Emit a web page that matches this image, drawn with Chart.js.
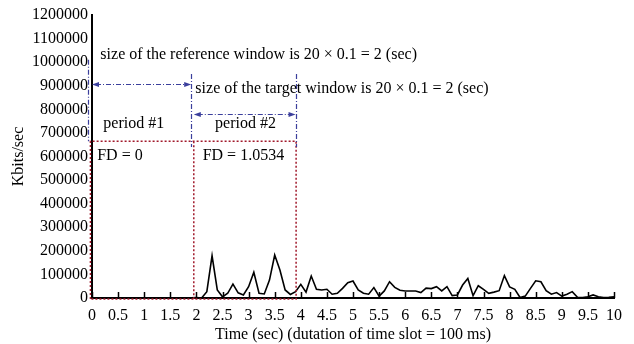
<!DOCTYPE html>
<html><head><meta charset="utf-8">
<script src="https://cdn.jsdelivr.net/npm/chart.js@4/dist/chart.umd.min.js"></script>
<style>html,body{margin:0;padding:0;background:#fff;overflow:hidden}</style>
</head><body>
<canvas id="c" width="634" height="344"></canvas>
<script>
const timeSec = [
  0.0,0.1,0.2,0.3,0.4,0.5,0.6,0.7,0.8,0.9,
  1.0,1.1,1.2,1.3,1.4,1.5,1.6,1.7,1.8,1.9,
  2.0,2.1,2.2,2.3,2.4,2.5,2.6,2.7,2.8,2.9,
  3.0,3.1,3.2,3.3,3.4,3.5,3.6,3.7,3.8,3.9,
  4.0,4.1,4.2,4.3,4.4,4.5,4.6,4.7,4.8,4.9,
  5.0,5.1,5.2,5.3,5.4,5.5,5.6,5.7,5.8,5.9,
  6.0,6.1,6.2,6.3,6.4,6.5,6.6,6.7,6.8,6.9,
  7.0,7.1,7.2,7.3,7.4,7.5,7.6,7.7,7.8,7.9,
  8.0,8.1,8.2,8.3,8.4,8.5,8.6,8.7,8.8,8.9,
  9.0,9.1,9.2,9.3,9.4,9.5,9.6,9.7,9.8,9.9,
  10.0
];
const kbitsPerSec = [
  0,0,0,0,0,0,0,0,0,0,
  0,0,0,0,0,0,0,0,0,1000,
  2000,0,27000,179000,34000,5000,20000,59000,22000,13000,
  48000,109000,20000,17000,76000,182000,119000,34000,15000,27000,
  58000,25000,93000,37000,34000,37000,16000,20000,41000,65000,
  72000,34000,20000,16000,44000,8000,30000,69000,45000,33000,
  30000,30000,30000,23000,42000,40000,48000,30000,48000,10000,
  13000,55000,83000,10000,52000,37000,20000,25000,31000,95000,
  47000,37000,2000,8000,41000,73000,69000,31000,16000,23000,
  8000,16000,27000,3000,2000,5000,13000,5000,2000,3000,
  5000
];
const xTitle = 'Time (sec) (dutation of time slot = 100 ms)';
const yTitle = 'Kbits/sec';
const refWindowText = 'size of the reference window is 20 \u00d7 0.1 = 2 (sec)';
const targetWindowText = 'size of the target window is 20 \u00d7 0.1 = 2 (sec)';
const periodLabels = ['period #1', 'period #2'];
const fdLabels = ['FD = 0', 'FD = 1.0534'];

const SERIF = '"Liberation Serif", "Times New Roman", serif';
const RED = '#a11a2c';
const BLUE = '#3b3f9c';

const annot = {
  id: 'annot',
  afterDatasetsDraw(chart) {
    const {ctx, scales: {x, y}} = chart;
    const X = v => x.getPixelForValue(v), Y = v => y.getPixelForValue(v);
    ctx.save();
    // inward x tick marks
    ctx.strokeStyle = '#000'; ctx.lineWidth = 1.5;
    x.ticks.forEach(tk => {
      const px = Math.round(X(tk.value)) + 0.5;
      ctx.beginPath(); ctx.moveTo(px, Y(0)); ctx.lineTo(px, Y(0) - 6); ctx.stroke();
    });
    // red dotted period boxes
    ctx.strokeStyle = RED; ctx.lineWidth = 1.5; ctx.setLineDash([2, 2]);
    const top = Y(665000), bot = Y(0) + 1;
    const xl = X(-0.03), xm = X(1.95), xr = X(3.91);
    ctx.beginPath();
    ctx.moveTo(xl, bot); ctx.lineTo(xl, top); ctx.lineTo(xr, top); ctx.lineTo(xr, bot); ctx.lineTo(xl, bot);
    ctx.moveTo(xm, top); ctx.lineTo(xm, bot);
    ctx.stroke();
    // blue dash-dot
    ctx.strokeStyle = BLUE; ctx.fillStyle = BLUE; ctx.lineWidth = 1.2; ctx.setLineDash([5, 2, 1, 2]);
    const vline = (t, a, b) => { ctx.beginPath(); ctx.moveTo(Math.round(X(t)) + 0.5, Y(a)); ctx.lineTo(Math.round(X(t)) + 0.5, Y(b)); ctx.stroke(); };
    vline(-0.07, 1010000, 665000);
    vline(1.9, 950000, 640000);
    vline(3.9, 950000, 640000);
    const arrow = (t0, t1, v) => {
      const yy = Math.round(Y(v)) + 0.5, a = X(t0), b = X(t1);
      ctx.setLineDash([5, 2, 1, 2]);
      ctx.beginPath(); ctx.moveTo(a + 4, yy); ctx.lineTo(b - 4, yy); ctx.stroke();
      ctx.setLineDash([]);
      ctx.beginPath(); ctx.moveTo(a, yy); ctx.lineTo(a + 7, yy - 2.5); ctx.lineTo(a + 7, yy + 2.5); ctx.closePath(); ctx.fill();
      ctx.beginPath(); ctx.moveTo(b, yy); ctx.lineTo(b - 7, yy - 2.5); ctx.lineTo(b - 7, yy + 2.5); ctx.closePath(); ctx.fill();
    };
    arrow(0.0, 1.9, 907000);
    arrow(1.95, 3.9, 780000);
    // texts
    ctx.setLineDash([]);
    ctx.fillStyle = '#000';
    ctx.font = '16px ' + SERIF;
    ctx.textBaseline = 'middle';
    ctx.textAlign = 'left';
    ctx.fillText(refWindowText, X(0.16), Y(1030000));
    ctx.fillText(targetWindowText, X(1.98), Y(885000));
    ctx.fillText(fdLabels[0], X(0.1), Y(605000));
    ctx.fillText(fdLabels[1], X(2.12), Y(605000));
    ctx.textAlign = 'center';
    ctx.fillText(periodLabels[0], X(0.8), Y(737000));
    ctx.fillText(periodLabels[1], X(2.94), Y(737000));
    ctx.restore();
  }
};

new Chart(document.getElementById('c'), {
  type: 'line',
  data: {
    datasets: [{
      data: timeSec.map((t, i) => ({x: t, y: kbitsPerSec[i]})),
      borderColor: '#000', borderWidth: 1.6, pointRadius: 0, tension: 0, fill: false
    }]
  },
  options: {
    responsive: false, animation: false, devicePixelRatio: 1,
    layout: {padding: {top: 15, right: 20, left: 0, bottom: 0}},
    plugins: {legend: {display: false}, tooltip: {enabled: false}},
    scales: {
      x: {
        type: 'linear', min: 0, max: 10,
        grid: {display: false, drawTicks: false},
        border: {display: true, color: '#000', width: 2},
        ticks: {stepSize: 0.5, autoSkip: false, maxRotation: 0, color: '#000', padding: 8,
                font: {family: SERIF, size: 16}, callback: v => String(v)},
        title: {display: true, text: xTitle, color: '#000', font: {family: SERIF, size: 16},
                padding: {top: 0, bottom: 0}},
        afterFit: s => { s.height = 46; }
      },
      y: {
        min: 0, max: 1200000,
        grid: {display: false, drawTicks: false},
        border: {display: true, color: '#000', width: 2},
        ticks: {stepSize: 100000, color: '#000', padding: 4, font: {family: SERIF, size: 16},
                callback: v => String(v)},
        title: {display: true, text: yTitle, color: '#000', font: {family: SERIF, size: 16},
                padding: {top: 9, bottom: 0}},
        afterFit: s => { s.width = 92; }
      }
    }
  },
  plugins: [annot]
});
</script>
</body></html>
